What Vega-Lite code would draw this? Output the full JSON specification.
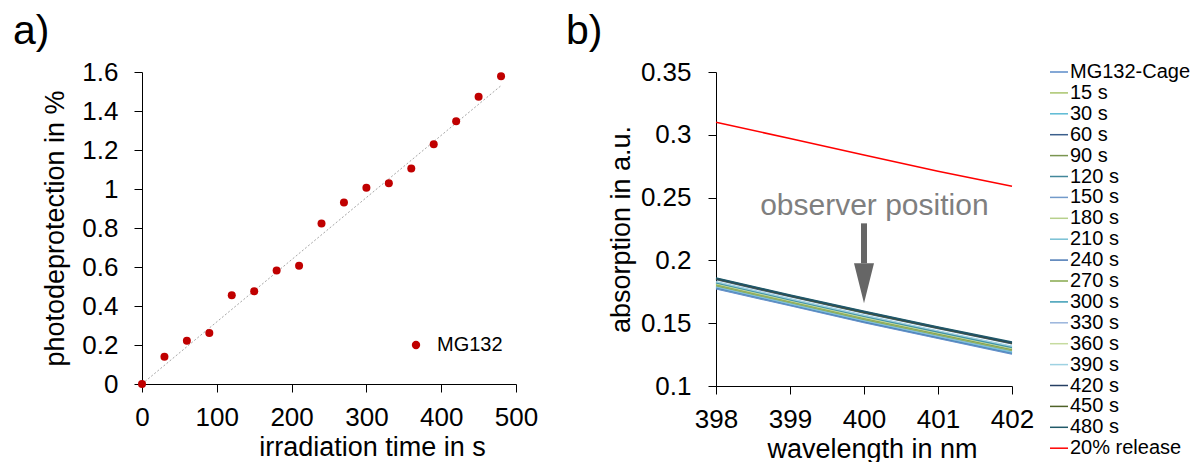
{
  "$schema": "https://vega.github.io/schema/vega-lite/v6.json",
  "padding": {"left": 13, "top": 11, "right": 0, "bottom": 0},
  "background": "white",
  "config": {
    "font": "Liberation Sans",
    "view": {"stroke": null},
    "axis": {"grid": false, "domainColor": "#000000", "tickColor": "#000000", "labelColor": "#000000", "titleColor": "#000000", "labelFontSize": 26, "titleFontSize": 27, "titleFontWeight": "normal", "tickSize": 8, "labelFlush": false, "labelFont": "Liberation Sans", "titleFont": "Liberation Sans"},
    "title": {"fontSize": 41, "fontWeight": "normal", "anchor": "start", "frame": "group", "baseline": "alphabetic", "font": "Liberation Sans", "color": "#000000"},
    "legend": {"labelFont": "Liberation Sans", "labelFontSize": 20, "labelColor": "#000000"}
  },
  "spacing": 28,
  "resolve": {"scale": {"color": "independent"}, "legend": {"color": "independent"}},
  "datasets": {
    "trend": [{"t": 0, "p": 0}, {"t": 480, "p": 1.53}],
    "points": [
      {"t": 0, "p": 0}, {"t": 30, "p": 0.14}, {"t": 60, "p": 0.222}, {"t": 90, "p": 0.262},
      {"t": 120, "p": 0.455}, {"t": 150, "p": 0.476}, {"t": 180, "p": 0.582}, {"t": 210, "p": 0.607},
      {"t": 240, "p": 0.823}, {"t": 270, "p": 0.931}, {"t": 300, "p": 1.006}, {"t": 330, "p": 1.03},
      {"t": 360, "p": 1.105}, {"t": 390, "p": 1.23}, {"t": 420, "p": 1.348}, {"t": 450, "p": 1.473},
      {"t": 480, "p": 1.578}
    ],
    "spectra": [
      {"s": "20% release", "wl": 398, "a": 0.310}, {"s": "20% release", "wl": 399, "a": 0.297}, {"s": "20% release", "wl": 400, "a": 0.284}, {"s": "20% release", "wl": 401, "a": 0.271}, {"s": "20% release", "wl": 402, "a": 0.259},
      {"s": "MG132-Cage", "wl": 398, "a": 0.1775}, {"s": "MG132-Cage", "wl": 399, "a": 0.1640}, {"s": "MG132-Cage", "wl": 400, "a": 0.1505}, {"s": "MG132-Cage", "wl": 401, "a": 0.1380}, {"s": "MG132-Cage", "wl": 402, "a": 0.1255},
      {"s": "150 s", "wl": 398, "a": 0.1779}, {"s": "150 s", "wl": 399, "a": 0.1644}, {"s": "150 s", "wl": 400, "a": 0.1510}, {"s": "150 s", "wl": 401, "a": 0.1385}, {"s": "150 s", "wl": 402, "a": 0.1260},
      {"s": "240 s", "wl": 398, "a": 0.1784}, {"s": "240 s", "wl": 399, "a": 0.1649}, {"s": "240 s", "wl": 400, "a": 0.1514}, {"s": "240 s", "wl": 401, "a": 0.1389}, {"s": "240 s", "wl": 402, "a": 0.1265},
      {"s": "30 s", "wl": 398, "a": 0.1788}, {"s": "30 s", "wl": 399, "a": 0.1653}, {"s": "30 s", "wl": 400, "a": 0.1519}, {"s": "30 s", "wl": 401, "a": 0.1394}, {"s": "30 s", "wl": 402, "a": 0.1269},
      {"s": "330 s", "wl": 398, "a": 0.1792}, {"s": "330 s", "wl": 399, "a": 0.1657}, {"s": "330 s", "wl": 400, "a": 0.1523}, {"s": "330 s", "wl": 401, "a": 0.1398}, {"s": "330 s", "wl": 402, "a": 0.1274},
      {"s": "210 s", "wl": 398, "a": 0.1796}, {"s": "210 s", "wl": 399, "a": 0.1661}, {"s": "210 s", "wl": 400, "a": 0.1528}, {"s": "210 s", "wl": 401, "a": 0.1403}, {"s": "210 s", "wl": 402, "a": 0.1279},
      {"s": "270 s", "wl": 398, "a": 0.1801}, {"s": "270 s", "wl": 399, "a": 0.1666}, {"s": "270 s", "wl": 400, "a": 0.1532}, {"s": "270 s", "wl": 401, "a": 0.1407}, {"s": "270 s", "wl": 402, "a": 0.1284},
      {"s": "15 s", "wl": 398, "a": 0.1805}, {"s": "15 s", "wl": 399, "a": 0.1670}, {"s": "15 s", "wl": 400, "a": 0.1537}, {"s": "15 s", "wl": 401, "a": 0.1412}, {"s": "15 s", "wl": 402, "a": 0.1288},
      {"s": "90 s", "wl": 398, "a": 0.1809}, {"s": "90 s", "wl": 399, "a": 0.1674}, {"s": "90 s", "wl": 400, "a": 0.1541}, {"s": "90 s", "wl": 401, "a": 0.1416}, {"s": "90 s", "wl": 402, "a": 0.1293},
      {"s": "180 s", "wl": 398, "a": 0.1813}, {"s": "180 s", "wl": 399, "a": 0.1678}, {"s": "180 s", "wl": 400, "a": 0.1546}, {"s": "180 s", "wl": 401, "a": 0.1421}, {"s": "180 s", "wl": 402, "a": 0.1298},
      {"s": "360 s", "wl": 398, "a": 0.1818}, {"s": "360 s", "wl": 399, "a": 0.1683}, {"s": "360 s", "wl": 400, "a": 0.1550}, {"s": "360 s", "wl": 401, "a": 0.1425}, {"s": "360 s", "wl": 402, "a": 0.1303},
      {"s": "300 s", "wl": 398, "a": 0.1822}, {"s": "300 s", "wl": 399, "a": 0.1687}, {"s": "300 s", "wl": 400, "a": 0.1555}, {"s": "300 s", "wl": 401, "a": 0.1430}, {"s": "300 s", "wl": 402, "a": 0.1307},
      {"s": "120 s", "wl": 398, "a": 0.1826}, {"s": "120 s", "wl": 399, "a": 0.1691}, {"s": "120 s", "wl": 400, "a": 0.1559}, {"s": "120 s", "wl": 401, "a": 0.1434}, {"s": "120 s", "wl": 402, "a": 0.1312},
      {"s": "390 s", "wl": 398, "a": 0.1830}, {"s": "390 s", "wl": 399, "a": 0.1695}, {"s": "390 s", "wl": 400, "a": 0.1564}, {"s": "390 s", "wl": 401, "a": 0.1439}, {"s": "390 s", "wl": 402, "a": 0.1317},
      {"s": "60 s", "wl": 398, "a": 0.1847}, {"s": "60 s", "wl": 399, "a": 0.1712}, {"s": "60 s", "wl": 400, "a": 0.1582}, {"s": "60 s", "wl": 401, "a": 0.1457}, {"s": "60 s", "wl": 402, "a": 0.1336},
      {"s": "450 s", "wl": 398, "a": 0.1852}, {"s": "450 s", "wl": 399, "a": 0.1717}, {"s": "450 s", "wl": 400, "a": 0.1586}, {"s": "450 s", "wl": 401, "a": 0.1461}, {"s": "450 s", "wl": 402, "a": 0.1341},
      {"s": "420 s", "wl": 398, "a": 0.1856}, {"s": "420 s", "wl": 399, "a": 0.1721}, {"s": "420 s", "wl": 400, "a": 0.1591}, {"s": "420 s", "wl": 401, "a": 0.1466}, {"s": "420 s", "wl": 402, "a": 0.1345},
      {"s": "480 s", "wl": 398, "a": 0.1860}, {"s": "480 s", "wl": 399, "a": 0.1725}, {"s": "480 s", "wl": 400, "a": 0.1595}, {"s": "480 s", "wl": 401, "a": 0.1470}, {"s": "480 s", "wl": 402, "a": 0.1350}
    ],
    "arrow": [{"wl": 400, "y1": 0.2295, "y2": 0.1977}],
    "arrowhead": [{"wl": 400, "a": 0.1818}],
    "note": [{"wl": 400.14, "a": 0.236, "label": "observer position"}]
  },
  "hconcat": [
    {
      "width": 374,
      "height": 312,
      "title": {"text": "a)", "dx": -129, "offset": 6},
      "encoding": {
        "x": {"field": "t", "type": "quantitative", "scale": {"domain": [0, 500], "nice": false},
          "axis": {"values": [0, 100, 200, 300, 400, 500], "title": "irradiation time in s", "labelPadding": 12, "titlePadding": 4, "titleX": 230}},
        "y": {"field": "p", "type": "quantitative", "scale": {"domain": [0, 1.6], "nice": false},
          "axis": {"values": [0, 0.2, 0.4, 0.6, 0.8, 1, 1.2, 1.4, 1.6], "format": "~g", "title": "photodeprotection in %", "labelPadding": 16, "titlePadding": 12}}
      },
      "layer": [
        {"data": {"name": "trend"}, "mark": {"type": "line", "color": "#a6a6a6", "strokeDash": [2, 2], "strokeWidth": 1}},
        {"data": {"name": "points"}, "mark": {"type": "point", "filled": true, "shape": "circle", "size": 64, "opacity": 1},
          "encoding": {"color": {"datum": "MG132", "type": "nominal", "scale": {"range": ["#C00000"]},
            "legend": {"orient": "none", "legendX": 264, "legendY": 263, "title": null, "symbolType": "circle", "symbolSize": 70, "labelOffset": 11, "labelFontSize": 20}}}}
      ]
    },
    {
      "width": 296,
      "height": 314,
      "title": {"text": "b)", "dx": -150, "offset": 6},
      "encoding": {
        "x": {"field": "wl", "type": "quantitative", "scale": {"domain": [398, 402], "nice": false},
          "axis": {"values": [398, 399, 400, 401, 402], "format": "d", "title": "wavelength in nm", "labelPadding": 12, "titlePadding": 4, "titleX": 156}},
        "y": {"field": "a", "type": "quantitative", "scale": {"domain": [0.1, 0.35], "nice": false},
          "axis": {"values": [0.1, 0.15, 0.2, 0.25, 0.3, 0.35], "format": "~g", "title": "absorption in a.u.", "labelPadding": 17, "titlePadding": 5}}
      },
      "layer": [
        {"data": {"name": "spectra"}, "mark": {"type": "line", "strokeWidth": 1.5},
          "encoding": {"color": {"field": "s", "type": "nominal",
            "scale": {
              "domain": ["MG132-Cage", "15 s", "30 s", "60 s", "90 s", "120 s", "150 s", "180 s", "210 s", "240 s", "270 s", "300 s", "330 s", "360 s", "390 s", "420 s", "450 s", "480 s", "20% release"],
              "range": ["#5b8bc9", "#a9c46c", "#5bbad4", "#3b5f8c", "#7a9550", "#42879a", "#729aca", "#b7d08c", "#78c0d4", "#4a78b4", "#86a84c", "#3c9cb5", "#9ab5dc", "#c6db9f", "#9ed2e2", "#253f63", "#4f6228", "#215968", "#ff0000"]
            },
            "legend": {"orient": "none", "legendX": 333, "legendY": -10, "title": null, "symbolType": "stroke", "symbolSize": 324, "symbolStrokeWidth": 1.5, "rowPadding": 0.9, "labelOffset": 1, "labelFontSize": 20}}}},
        {"data": {"name": "arrow"}, "mark": {"type": "rule", "strokeWidth": 6, "color": "#666666"},
          "encoding": {"y": {"field": "y1", "type": "quantitative"}, "y2": {"field": "y2"}}},
        {"data": {"name": "arrowhead"}, "mark": {"type": "point", "shape": "M-1,-2L1,-2L0,2Z", "filled": true, "size": 400, "color": "#666666", "opacity": 1}},
        {"data": {"name": "note"}, "mark": {"type": "text", "fontSize": 30, "color": "#7f7f7f", "baseline": "alphabetic", "align": "center", "font": "Liberation Sans"},
          "encoding": {"text": {"field": "label"}}}
      ]
    }
  ]
}
